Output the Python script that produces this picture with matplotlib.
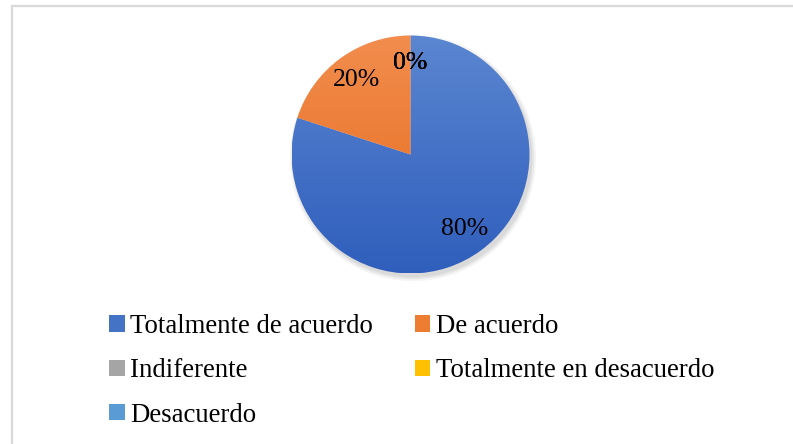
import numpy as np
import matplotlib.pyplot as plt
from matplotlib.patches import Patch, Rectangle, Circle
from matplotlib.colors import LinearSegmentedColormap

plt.rcParams['font.family'] = ['Liberation Serif', 'DejaVu Serif']

categories = ['Totalmente de acuerdo', 'De acuerdo', 'Indiferente',
              'Totalmente en desacuerdo', 'Desacuerdo']
values = [80, 20, 0, 0, 0]
colors = ['#4472C4', '#ED7D31', '#A5A5A5', '#FFC000', '#5B9BD5']
# lighter top / darker bottom, like the office gradient fill
grad_top = ['#5B86D1', '#F28D4E', '#B5B5B5', '#FFCB33', '#6FAADD']
grad_bot = ['#2F5EBC', '#E56A1A', '#959595', '#F0B000', '#4A8BCB']

W, H = 793, 444
fig = plt.figure(figsize=(W / 100, H / 100), dpi=100)

# light gray chart frame
fig.patches.append(Rectangle((12 / W, -0.1), 1.2, (H - 6.5) / H + 0.1,
                             transform=fig.transFigure, fill=False,
                             edgecolor='#D9D9D9', linewidth=1.6))

cx, cy, r = 410.5, H - 154.5, 119
m = 1.15  # margin around the unit pie so nothing gets clipped
ax = fig.add_axes([(cx - m * r) / W, (cy - m * r) / H, 2 * m * r / W, 2 * m * r / H])

# soft shadow
for k, a in [(1.035, 0.04), (1.02, 0.05), (1.005, 0.06)]:
    ax.add_patch(Circle((0.02, -0.03), k, color='black', alpha=a, lw=0))

wedges, texts, autotexts = ax.pie(values, colors=colors, startangle=90,
                                  counterclock=False, radius=1,
                                  autopct='%1.0f%%', pctdistance=0.77,
                                  textprops={'fontsize': 18.5, 'color': 'black'},
                                  frame=True)

grad = np.linspace(1, 0, 256).reshape(-1, 1)
for w, c0, c1 in zip(wedges, grad_top, grad_bot):
    cmap = LinearSegmentedColormap.from_list('g', [c1, c0])
    im = ax.imshow(grad, cmap=cmap, extent=[-1, 1, -1, 1], aspect='auto',
                   zorder=w.get_zorder(), origin='upper')
    im.set_clip_path(w)
    w.set_facecolor('none')
    w.set_edgecolor('none')
ax.set_xlim(-m, m)
ax.set_ylim(-m, m)
ax.axis('off')
for t in autotexts:
    t.set_zorder(10)

handles = [Patch(facecolor=c, edgecolor='none') for c in colors]
order = [0, 2, 4, 1, 3]
fig.legend([handles[i] for i in order], [categories[i] for i in order],
           ncol=2, loc='upper left', bbox_to_anchor=(109 / W, 1 - 314 / H),
           frameon=False, fontsize=19.3, handlelength=0.58, handleheight=0.55,
           handletextpad=0.22, columnspacing=1.55, labelspacing=0.72,
           borderpad=0, borderaxespad=0)

fig.savefig('out.png', dpi=100)
